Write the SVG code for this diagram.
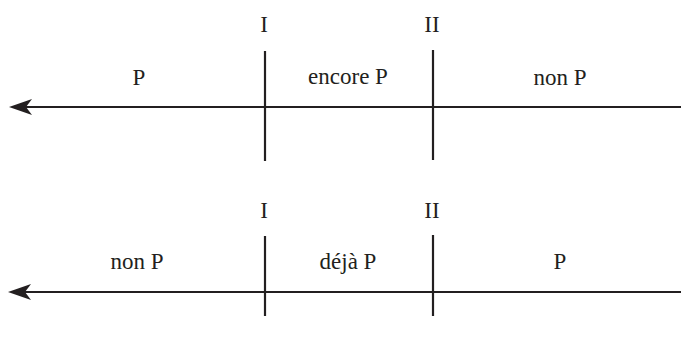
<svg xmlns="http://www.w3.org/2000/svg" width="681" height="340" viewBox="0 0 681 340">
<style>
.t{font-family:"Liberation Serif","Times New Roman",serif;font-size:23px;fill:#231f20;text-anchor:middle}
.ln{stroke:#231f20;stroke-width:2.2;fill:none}
.ar{fill:#231f20}
</style>
<rect width="681" height="340" fill="#fff"/>
<g id="connectors">
<line class="ln" x1="22" y1="107" x2="681" y2="107"/>
<path class="ar" d="M9,107 L32,99 L26,107 L32,115 Z"/>
<line class="ln" x1="265" y1="51" x2="265" y2="161"/>
<line class="ln" x1="433" y1="50" x2="433" y2="160"/>
<line class="ln" x1="22" y1="292" x2="681" y2="292"/>
<path class="ar" d="M8,292 L31,284 L25,292 L31,300 Z"/>
<line class="ln" x1="265" y1="236" x2="265" y2="316"/>
<line class="ln" x1="433" y1="235" x2="433" y2="316"/>
</g>
<g id="top">
<text class="t" x="264" y="32">I</text>
<text class="t" x="432" y="32">II</text>
<text class="t" x="139" y="85">P</text>
<text class="t" x="348" y="84">encore P</text>
<text class="t" x="560" y="85">non P</text>
</g>
<g id="bottom">
<text class="t" x="264" y="218">I</text>
<text class="t" x="432" y="218">II</text>
<text class="t" x="137" y="269">non P</text>
<text class="t" x="348" y="269">déjà P</text>
<text class="t" x="560" y="269">P</text>
</g>
</svg>
